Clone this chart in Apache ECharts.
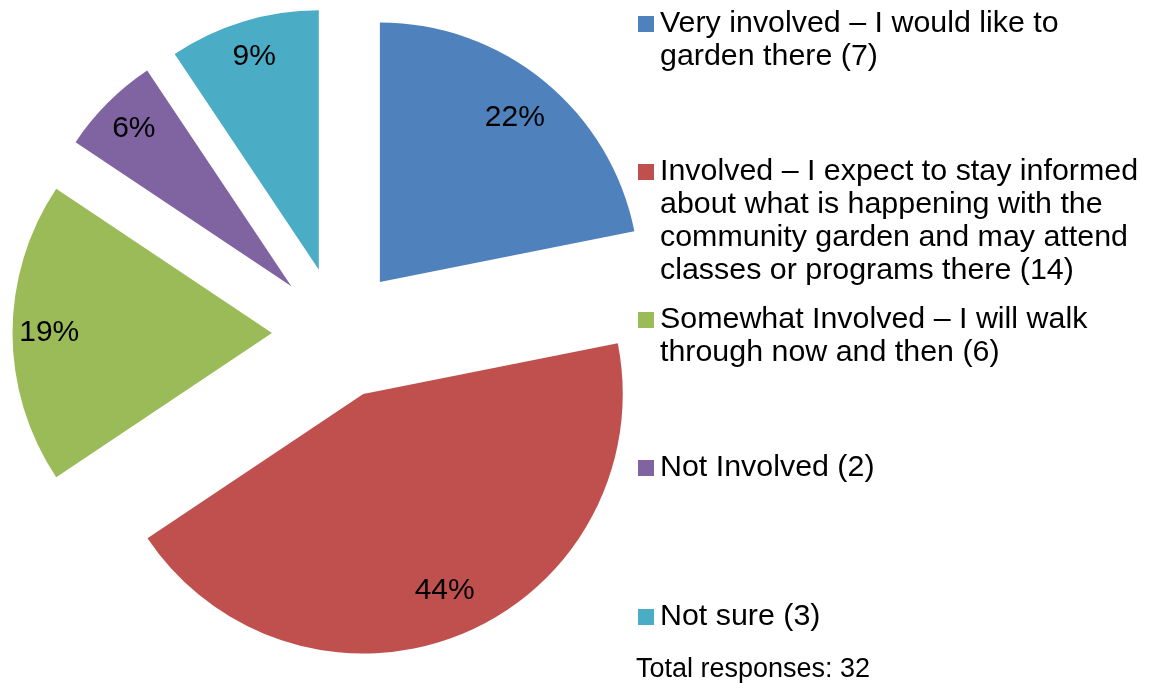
<!DOCTYPE html>
<html>
<head>
<meta charset="utf-8">
<script src="https://cdn.jsdelivr.net/npm/echarts@6/dist/echarts.min.js"></script>
<style>
html,body{margin:0;padding:0;background:#fff;}
#chart{width:1165px;height:685px;}
</style>
</head>
<body>
<div id="chart"></div>
<script>
const categories = [
  "Very involved – I would like to garden there",
  "Involved – I expect to stay informed about what is happening with the community garden and may attend classes or programs there",
  "Somewhat Involved – I will walk through now and then",
  "Not Involved",
  "Not sure"
];
const counts = [7, 14, 6, 2, 3];
const legendLabels = [
  "Very involved – I would like to\ngarden there (7)",
  "Involved – I expect to stay informed\nabout what is happening with the\ncommunity garden and may attend\nclasses or programs there (14)",
  "Somewhat Involved – I will walk\nthrough now and then (6)",
  "Not Involved (2)",
  "Not sure (3)"
];
const colors = ["#4F81BD", "#C0504D", "#9BBB59", "#8064A2", "#4BACC6"];
const totalText = "Total responses: 32";

const FONT = "'Liberation Sans', Arial, sans-serif";
const LH = 33;
const legendCenters = [24, 172, 320, 468, 617];
const CENTER = [338, 333];
const R = 259.5;
const OFFSET = 66;

const chart = echarts.init(document.getElementById('chart'), null, {renderer: 'canvas'});

const pieData = categories.map((c, i) => ({
  name: c, value: counts[i], selected: true,
  itemStyle: {color: colors[i]}
}));
// label carriers: transparent rings, labels sit at the ring's mid radius
function labelRing(showIdx) {
  return categories.map((c, i) => ({
    name: c, value: counts[i], selected: true,
    itemStyle: {color: 'rgba(0,0,0,0)'},
    label: {show: showIdx.indexOf(i) >= 0}
  }));
}

const legends = categories.map((c, i) => {
  const nLines = legendLabels[i].split('\n').length;
  // blank lines above keep the first text line level with the marker
  const shown = '\n'.repeat(nLines - 1) + legendLabels[i];
  return {
    show: true,
    orient: 'vertical',
    left: 638,
    top: legendCenters[i] - (2 * nLines - 1) * LH / 2,
    padding: 0,
    itemWidth: 16,
    itemHeight: 16,
    icon: 'rect',
    selectedMode: false,
    data: [c],
    formatter: () => shown,
    textStyle: {
      fontFamily: FONT, fontSize: 30.4, color: '#000', lineHeight: LH,
      padding: [0, 0, 0, 1]
    }
  };
});

const labelSeriesBase = {
  type: 'pie',
  center: CENTER,
  startAngle: 90,
  clockwise: true,
  selectedMode: 'multiple',
  selectedOffset: OFFSET,
  percentPrecision: 0,
  avoidLabelOverlap: false,
  silent: true,
  emphasis: {disabled: true},
  label: {
    show: true, position: 'inside', formatter: '{d}%',
    fontFamily: FONT, fontSize: 30, color: '#000'
  },
  labelLine: {show: false}
};

chart.setOption({
  animation: false,
  backgroundColor: '#fff',
  title: {
    text: totalText, left: 636, top: 656, padding: 0,
    textStyle: {fontFamily: FONT, fontSize: 27, fontWeight: 'normal', color: '#000'}
  },
  legend: legends,
  series: [
    {
      type: 'pie',
      center: CENTER,
      radius: R,
      startAngle: 90,
      clockwise: true,
      selectedMode: 'multiple',
      selectedOffset: OFFSET,
      avoidLabelOverlap: false,
      label: {show: false},
      labelLine: {show: false},
      emphasis: {disabled: true},
      data: pieData
    },
    Object.assign({}, labelSeriesBase, {radius: [160, R], data: labelRing([0, 1])}),
    Object.assign({}, labelSeriesBase, {radius: [180, R], data: labelRing([2, 3, 4])})
  ]
});
</script>
</body>
</html>
